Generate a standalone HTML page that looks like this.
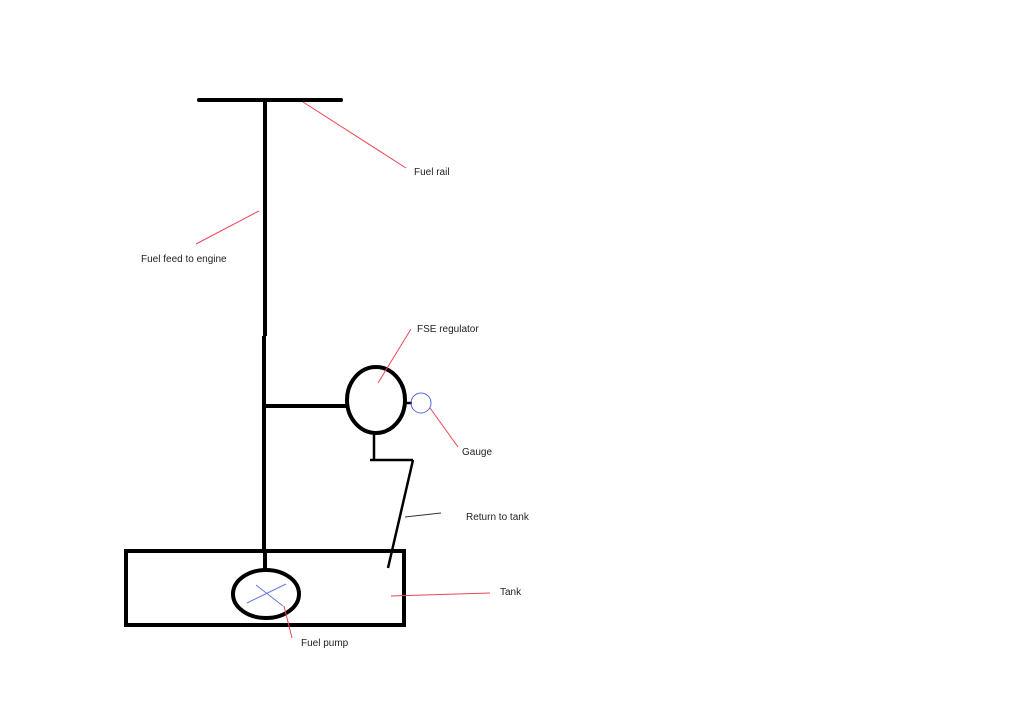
<!DOCTYPE html>
<html><head><style>
html,body{margin:0;padding:0;background:#fff;}
svg{display:block;}
text{font-family:"Liberation Sans",sans-serif;font-size:10px;fill:#222;}
</style></head><body>
<svg width="1024" height="708" viewBox="0 0 1024 708" xmlns="http://www.w3.org/2000/svg">
<g stroke="#000" fill="none" stroke-width="4">
<line x1="199" y1="100" x2="341" y2="100" stroke-linecap="round"/>
<line x1="265" y1="100" x2="265" y2="336"/>
<line x1="264" y1="336" x2="264" y2="553"/>
<line x1="264" y1="406" x2="347" y2="406"/>
<ellipse cx="376" cy="400" rx="29" ry="33"/>
<line x1="265" y1="553" x2="265" y2="572"/>
<rect x="126" y="551" width="278" height="74"/>
<ellipse cx="266" cy="594" rx="33" ry="24"/>
</g>
<g stroke="#000" fill="none" stroke-width="2.5">
<line x1="404" y1="403" x2="412" y2="403"/>
<line x1="374" y1="433" x2="374" y2="460"/>
<line x1="370" y1="460" x2="413" y2="460"/>
<line x1="413" y1="460" x2="388" y2="568"/>
</g>
<circle cx="421" cy="403" r="10" stroke="#5566dd" fill="none" stroke-width="1"/>
<g stroke="#6677dd" stroke-width="1">
<line x1="247" y1="603" x2="286" y2="584"/>
<line x1="256" y1="585" x2="283" y2="606"/>
</g>
<g stroke="#ee4455" stroke-width="1">
<line x1="303" y1="102" x2="406" y2="168"/>
<line x1="196" y1="244" x2="259" y2="211"/>
<line x1="411" y1="329" x2="378" y2="383"/>
<line x1="430" y1="408" x2="458" y2="447"/>
<line x1="391" y1="596" x2="490" y2="593"/>
<line x1="284" y1="606" x2="292" y2="638"/>
</g>
<line x1="405" y1="517" x2="441" y2="513" stroke="#333" stroke-width="1"/>
<text x="414" y="175">Fuel rail</text>
<text x="141" y="262">Fuel feed to engine</text>
<text x="417" y="332">FSE regulator</text>
<text x="462" y="455">Gauge</text>
<text x="466" y="520">Return to tank</text>
<text x="500" y="595">Tank</text>
<text x="301" y="646">Fuel pump</text>
</svg>
</body></html>
